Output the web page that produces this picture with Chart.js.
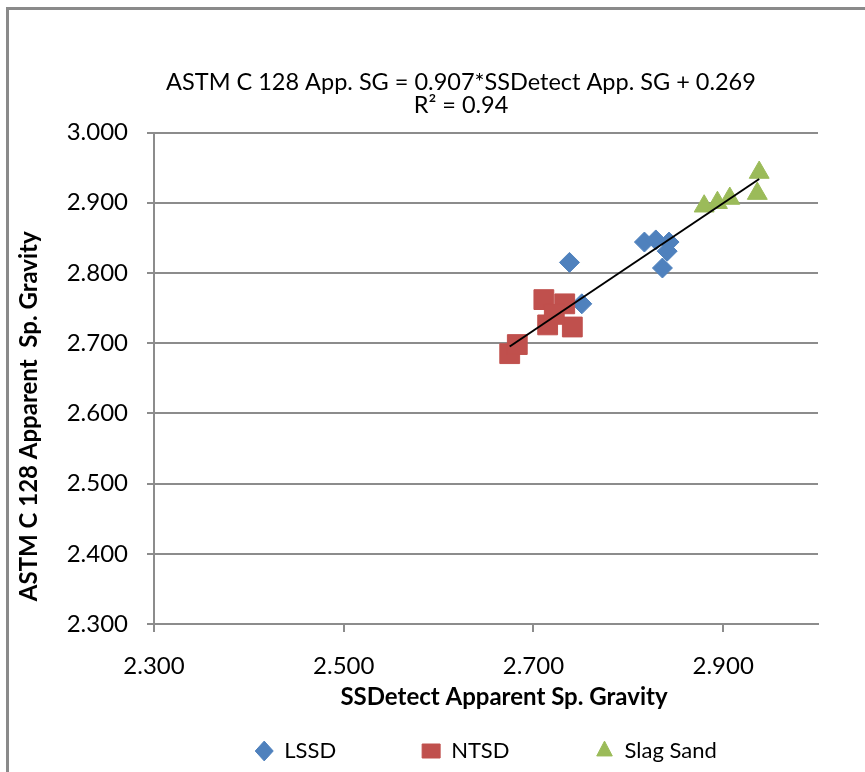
<!DOCTYPE html>
<html>
<head>
<meta charset="utf-8">
<script src="https://cdn.jsdelivr.net/npm/chart.js@4.4.1/dist/chart.umd.min.js"></script>
<style>
  html, body { margin: 0; padding: 0; background: #fff; overflow: hidden; }
  #wrap { position: relative; width: 865px; height: 772px; }
  #frame { position: absolute; left: 6px; top: 7px; width: 900px; height: 800px; border: 3px solid #8a8a8a; pointer-events: none; }
</style>
</head>
<body>
<div id="wrap">
  <canvas id="chart" width="865" height="772"></canvas>
  <div id="frame"></div>
</div>
<script>
// values
const seriesNames = ["LSSD", "NTSD", "Slag Sand"];
const lssdX = [2.738, 2.751, 2.817, 2.829, 2.843, 2.841, 2.836];
const lssdY = [2.815, 2.756, 2.844, 2.847, 2.844, 2.831, 2.807];
const ntsdX = [2.675, 2.683, 2.711, 2.733, 2.715, 2.741, 2.722];
const ntsdY = [2.685, 2.698, 2.762, 2.756, 2.726, 2.723, 2.741];
const slagX = [2.880, 2.894, 2.907, 2.938, 2.936];
const slagY = [2.895, 2.900, 2.906, 2.943, 2.913];

// trendline (from the equation shown in the title)
const trendSlope = 0.907;
const trendIntercept = 0.269;

const xTicks = [2.3, 2.5, 2.7, 2.9];
const yTicks = [2.3, 2.4, 2.5, 2.6, 2.7, 2.8, 2.9, 3.0];

const chartTitle = ["ASTM C 128 App. SG = 0.907*SSDetect App. SG + 0.269", "R\u00B2 = 0.94"];
const xTitle = "SSDetect Apparent Sp. Gravity";
const yTitle = "ASTM C 128 Apparent  Sp. Gravity";

const FONT = "Lato, 'Noto Sans', sans-serif";
const GRID = "#8c8c8c";

function toPoints(xs, ys) {
  return xs.map((x, i) => ({ x: x, y: ys[i] }));
}

const allX = lssdX.concat(ntsdX, slagX);
const xLo = Math.min(...allX), xHi = Math.max(...allX);
const trendPts = [
  { x: xLo, y: trendSlope * xLo + trendIntercept },
  { x: xHi, y: trendSlope * xHi + trendIntercept }
];

// axis titles sit a bit off-centre in the original, so draw them here
const axisTitles = {
  id: 'axisTitles',
  afterDraw(chart) {
    const { ctx, chartArea: a } = chart;
    ctx.save();
    ctx.font = "bold 24px " + FONT;
    ctx.fillStyle = "#000";
    ctx.textAlign = "center";
    ctx.textBaseline = "middle";
    ctx.fillText(xTitle, (a.left + a.right) / 2 + 18, a.bottom + 73);
    ctx.translate(29, (a.top + a.bottom) / 2 + 38);
    ctx.rotate(-Math.PI / 2);
    ctx.fillText(yTitle, 0, 0);
    ctx.restore();
  }
};

// move title / legend boxes
const placeBoxes = {
  id: 'placeBoxes',
  afterLayout(chart) {
    const a = chart.chartArea;
    const t = chart.titleBlock;
    if (t) { t.left = 461 - 400; t.right = 461 + 400; }
    const lg = chart.legend;
    if (lg) {
      lg.left = a.left - 100;
      lg.right = a.right + 100;
      const h = lg.bottom - lg.top;
      lg.bottom = chart.height;
      lg.top = lg.bottom - h;
    }
  }
};

Chart.defaults.font.family = FONT;
Chart.defaults.font.size = 24;
Chart.defaults.color = "#000";

new Chart(document.getElementById("chart"), {
  type: "scatter",
  data: {
    datasets: [
      {
        label: seriesNames[0],
        data: toPoints(lssdX, lssdY),
        pointStyle: "rectRot",
        pointRadius: 10,
        backgroundColor: "#4F81BD",
        borderColor: "#4F81BD",
        borderWidth: 1,
        order: 3
      },
      {
        label: seriesNames[1],
        data: toPoints(ntsdX, ntsdY),
        pointStyle: "rect",
        pointRadius: 14,
        backgroundColor: "#C0504D",
        borderColor: "#C0504D",
        borderWidth: 1,
        order: 2
      },
      {
        label: seriesNames[2],
        data: toPoints(slagX, slagY),
        pointStyle: "triangle",
        pointRadius: 11.5,
        backgroundColor: "#9BBB59",
        borderColor: "#9BBB59",
        borderWidth: 1,
        order: 1
      },
      {
        label: "",
        data: trendPts,
        showLine: true,
        borderColor: "#000",
        borderWidth: 2,
        pointRadius: 0,
        order: 0
      }
    ]
  },
  options: {
    responsive: false,
    animation: false,
    layout: { padding: { left: 0, right: 47, top: 0, bottom: -30 } },
    plugins: {
      tooltip: { enabled: false },
      title: {
        display: true,
        text: chartTitle,
        color: "#000",
        font: { size: 23.5, weight: "normal", lineHeight: 1.0 },
        padding: { top: 70.5, bottom: 15 }
      },
      legend: {
        position: "bottom",
        labels: {
          filter: item => item.text !== "",
          sort: (a, b) => a.datasetIndex - b.datasetIndex,
          usePointStyle: true,
          pointStyleWidth: 18,
          boxHeight: 14,
          padding: 86,
          color: "#000",
          font: { size: 22 }
        }
      }
    },
    scales: {
      x: {
        type: "linear",
        min: 2.3,
        max: 3.0,
        afterBuildTicks: s => { s.ticks = xTicks.map(v => ({ value: v })); },
        afterFit: s => { s.height = 60; },
        ticks: { padding: 19.5, color: "#000", callback: v => v.toFixed(3) },
        grid: { drawOnChartArea: false, drawTicks: true, tickLength: 8, color: GRID, lineWidth: 2 },
        border: { display: true, color: GRID, width: 2 }
      },
      y: {
        type: "linear",
        min: 2.3,
        max: 3.0,
        afterBuildTicks: s => { s.ticks = yTicks.map(v => ({ value: v })); },
        afterFit: s => { s.width = 154; },
        ticks: { padding: 19, color: "#000", callback: v => v.toFixed(3) },
        grid: { color: GRID, lineWidth: 2, tickLength: 7, drawTicks: true },
        border: { display: true, color: GRID, width: 2 }
      }
    }
  },
  plugins: [placeBoxes, axisTitles]
});
</script>
</body>
</html>
